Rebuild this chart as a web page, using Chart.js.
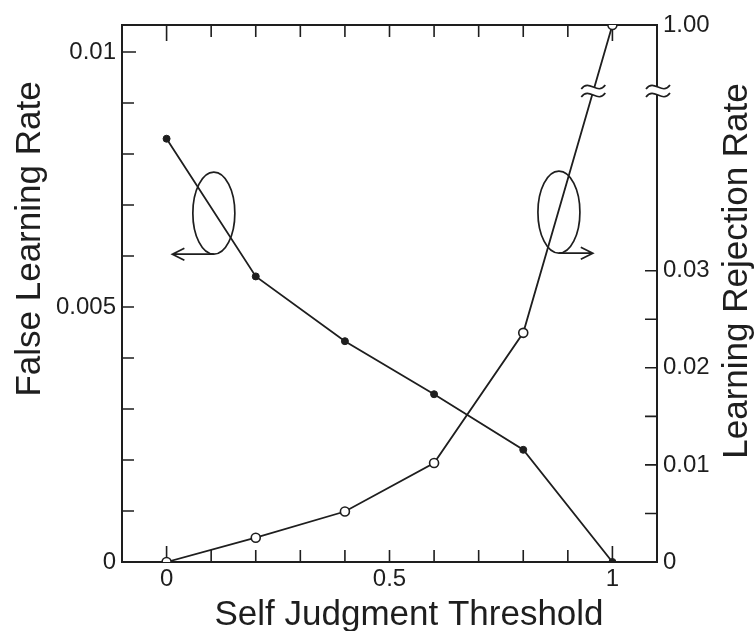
<!DOCTYPE html>
<html lang="en">
<head>
<meta charset="UTF-8">
<title>Self Judgment Threshold</title>
<style>
  body { margin: 0; background: #fff; }
  #wrap { width: 756px; height: 631px; position: relative; }
</style>
</head>
<body>
<div id="wrap"><canvas id="thresholdChart"></canvas></div>

<script src="https://cdn.jsdelivr.net/npm/chart.js"></script>
<script>
// x values (self judgment threshold)
const thresholds = [0, 0.2, 0.4, 0.6, 0.8, 1.0];
// left axis, filled dots
const falseLearningRate = [0.0083, 0.0056, 0.00433, 0.00329, 0.0022, 0];
// right axis, open circles (last point sits above the axis break)
const rejectionRate = [0, 0.0025, 0.0052, 0.0102, 0.0236, 1.00];

const xTicks = [0, 0.1, 0.2, 0.3, 0.4, 0.5, 0.6, 0.7, 0.8, 0.9, 1.0];
const xTickLabels = ['0', '', '', '', '', '0.5', '', '', '', '', '1'];
const leftTicks = [0, 0.001, 0.002, 0.003, 0.004, 0.005, 0.006, 0.007, 0.008, 0.009, 0.01];
const leftTickLabels = ['0', '', '', '', '', '0.005', '', '', '', '', '0.01'];
const rightTicks = [0, 0.005, 0.01, 0.015, 0.02, 0.025, 0.03, 1.00];
const rightTickLabels = ['0', '', '0.01', '', '0.02', '', '0.03', '1.00'];

const INK = '#1e1e1e';
const FONT = '"Liberation Sans", Arial, sans-serif';

// right axis is linear up to lowerMax, then jumps to 1.00 at the top
const lowerMax = 0.0485;
const lowerShare = 0.877;

class BrokenLinearScale extends Chart.LinearScale {
  getPixelForValue(value) {
    const h = this.bottom - this.top;
    const breakPx = this.bottom - h * lowerShare;
    if (value <= lowerMax) {
      return this.bottom - (value / lowerMax) * h * lowerShare;
    }
    return breakPx - (value - lowerMax) / (this.max - lowerMax) * (breakPx - this.top);
  }
  getValueForPixel(pixel) {
    const h = this.bottom - this.top;
    const breakPx = this.bottom - h * lowerShare;
    if (pixel >= breakPx) {
      return (this.bottom - pixel) / (h * lowerShare) * lowerMax;
    }
    return lowerMax + (breakPx - pixel) / (breakPx - this.top) * (this.max - lowerMax);
  }
}
BrokenLinearScale.id = 'brokenLinear';
BrokenLinearScale.defaults = Chart.LinearScale.defaults;
Chart.register(BrokenLinearScale);

function setTicks(values) {
  return scale => { scale.ticks = values.map(v => ({ value: v })); };
}

// inward tick marks, frame
const framePlugin = {
  id: 'frame',
  beforeDatasetsDraw(chart) {
    const { ctx, chartArea: a, scales } = chart;
    ctx.save();
    ctx.strokeStyle = INK;
    ctx.lineWidth = 1.6;
    ctx.beginPath();
    scales.x.ticks.forEach(t => {
      const px = scales.x.getPixelForValue(t.value);
      const len = (t.value === 0 || t.value === 1) ? 16 : 12;
      ctx.moveTo(px, a.bottom); ctx.lineTo(px, a.bottom - len);
      ctx.moveTo(px, a.top); ctx.lineTo(px, a.top + len);
    });
    scales.y.ticks.forEach(t => {
      const py = scales.y.getPixelForValue(t.value);
      ctx.moveTo(a.left, py); ctx.lineTo(a.left + (t.value === 0.01 ? 14 : 12), py);
    });
    scales.y2.ticks.forEach(t => {
      if (t.value >= 1) return;
      const py = scales.y2.getPixelForValue(t.value);
      ctx.moveTo(a.right, py); ctx.lineTo(a.right - 12, py);
    });
    ctx.stroke();
    ctx.lineWidth = 2;
    ctx.strokeRect(a.left, a.top, a.right - a.left, a.bottom - a.top);
    ctx.restore();
  }
};

function drawBreak(ctx, cx, cy) {
  const w = 12;
  const wave = (off, reverse) => {
    if (!reverse) {
      ctx.moveTo(cx - w, cy + off + 2);
      ctx.bezierCurveTo(cx - 4, cy + off - 9, cx + 4, cy + off + 9, cx + w, cy + off - 2);
    } else {
      ctx.lineTo(cx + w, cy + off - 2);
      ctx.bezierCurveTo(cx + 4, cy + off + 9, cx - 4, cy + off - 9, cx - w, cy + off + 2);
    }
  };
  ctx.beginPath();
  wave(-4, false);
  wave(4, true);
  ctx.closePath();
  ctx.fillStyle = '#fff';
  ctx.fill();
  ctx.beginPath();
  wave(-4, false);
  ctx.stroke();
  ctx.beginPath();
  wave(4, false);
  ctx.stroke();
}

function drawLoop(ctx, cx, cy, tipX) {
  const rx = 21, ry = 41;
  ctx.beginPath();
  ctx.ellipse(cx, cy, rx, ry, 0, 0, Math.PI * 2);
  ctx.stroke();
  const by = cy + ry;
  const dir = Math.sign(tipX - cx);
  ctx.beginPath();
  ctx.moveTo(cx, by);
  ctx.lineTo(tipX, by);
  ctx.moveTo(tipX - dir * 12, by - 6);
  ctx.lineTo(tipX, by);
  ctx.lineTo(tipX - dir * 12, by + 6);
  ctx.stroke();
}

// loop-and-arrow markers pointing at the axis each curve belongs to (data units)
const leftLoop = { x: 0.106, y: 0.00684, tip: 0.013 };
const rightLoop = { x: 0.88, y: 0.00686, tip: 0.956 };

const decorPlugin = {
  id: 'decor',
  afterDatasetsDraw(chart) {
    const { ctx, chartArea: a, scales } = chart;
    ctx.save();
    ctx.strokeStyle = INK;
    ctx.lineWidth = 1.7;

    // axis break on the rejection curve and on the right axis
    const yb = scales.y2.getPixelForValue(lowerMax);
    const pts = chart.getDatasetMeta(1).data;
    for (let i = 0; i < pts.length - 1; i++) {
      const p = pts[i], q = pts[i + 1];
      if (p.y >= yb && q.y <= yb) {
        const xb = p.x + (q.x - p.x) * (p.y - yb) / (p.y - q.y);
        drawBreak(ctx, xb, yb);
      }
    }
    drawBreak(ctx, a.right + 1, yb);

    [leftLoop, rightLoop].forEach(l => {
      drawLoop(ctx,
        scales.x.getPixelForValue(l.x),
        scales.y.getPixelForValue(l.y),
        scales.x.getPixelForValue(l.tip));
    });

    // axis titles
    ctx.fillStyle = INK;
    ctx.font = '35px ' + FONT;
    ctx.textAlign = 'center';
    ctx.textBaseline = 'alphabetic';
    ctx.fillText('Self Judgment Threshold', 409, 625);
    ctx.save();
    ctx.translate(40, 239);
    ctx.rotate(-Math.PI / 2);
    ctx.fillText('False Learning Rate', 0, 0);
    ctx.restore();
    ctx.save();
    ctx.translate(747, 271);
    ctx.rotate(-Math.PI / 2);
    ctx.fillText('Learning Rejection Rate', 0, 0);
    ctx.restore();
    ctx.restore();
  }
};

const tickFont = { family: FONT, size: 24 };

const ctx = document.getElementById('thresholdChart').getContext('2d');
const thresholdChart = new Chart(ctx, {
  type: 'line',
  data: {
    datasets: [{
      label: 'False Learning Rate',
      data: thresholds.map((x, i) => ({ x, y: falseLearningRate[i] })),
      yAxisID: 'y',
      borderColor: INK,
      borderWidth: 1.8,
      pointRadius: 3.5,
      pointBackgroundColor: INK,
      pointBorderColor: INK,
      pointBorderWidth: 1,
      tension: 0
    }, {
      label: 'Learning Rejection Rate',
      data: thresholds.map((x, i) => ({ x, y: rejectionRate[i] })),
      yAxisID: 'y2',
      borderColor: INK,
      borderWidth: 1.8,
      pointRadius: 4.5,
      pointBackgroundColor: '#fff',
      pointBorderColor: INK,
      pointBorderWidth: 1.6,
      tension: 0
    }]
  },
  options: {
    responsive: true,
    maintainAspectRatio: false,
    animation: false,
    layout: { padding: { top: 25, left: 0, right: 0, bottom: 0 } },
    plugins: {
      legend: { display: false },
      tooltip: { enabled: false }
    },
    scales: {
      x: {
        type: 'linear',
        min: -0.1,
        max: 1.1,
        afterBuildTicks: setTicks(xTicks),
        afterFit: s => { s.height = 69; },
        grid: { display: false, drawTicks: false },
        border: { display: false },
        ticks: {
          autoSkip: false,
          maxRotation: 0,
          padding: 3,
          color: INK,
          font: tickFont,
          callback: (v, i) => xTickLabels[i]
        }
      },
      y: {
        type: 'linear',
        position: 'left',
        min: 0,
        max: 0.01053,
        afterBuildTicks: setTicks(leftTicks),
        afterFit: s => { s.width = 122; },
        grid: { display: false, drawTicks: false },
        border: { display: false },
        ticks: {
          autoSkip: false,
          padding: 6,
          color: INK,
          font: tickFont,
          callback: (v, i) => leftTickLabels[i]
        }
      },
      y2: {
        type: 'brokenLinear',
        position: 'right',
        min: 0,
        max: 1.0,
        afterBuildTicks: setTicks(rightTicks),
        afterFit: s => { s.width = 99; },
        grid: { display: false, drawTicks: false },
        border: { display: false },
        ticks: {
          autoSkip: false,
          padding: 6,
          color: INK,
          font: tickFont,
          callback: (v, i) => rightTickLabels[i]
        }
      }
    }
  },
  plugins: [framePlugin, decorPlugin]
});
</script>
</body>
</html>
